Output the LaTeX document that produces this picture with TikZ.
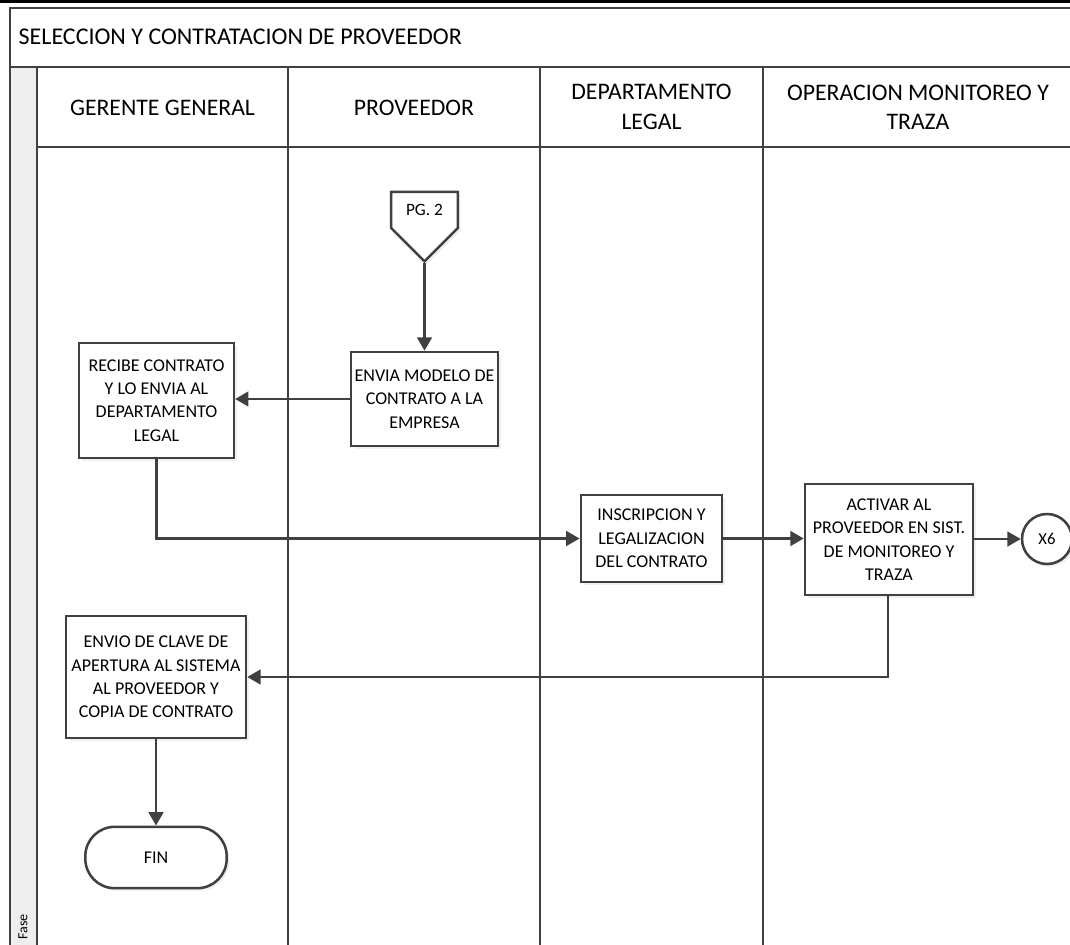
\documentclass[tikz,border=0pt]{standalone}
\usepackage{fontspec}
\setmainfont{Carlito}
\usetikzlibrary{arrows.meta,positioning,shapes.symbols,shadows}
\definecolor{lane}{HTML}{404040}
\definecolor{fase}{HTML}{EEEEEE}

\begin{document}
\begin{tikzpicture}[
  x=0.75pt, y=-0.75pt,
  >={Triangle[length=10pt, width=11pt]},
  task/.style={draw=lane, line width=1.9pt, fill=white, align=center,
               inner sep=2pt, font=\fontsize{13.5}{17.5}\selectfont,
               drop shadow={opacity=0.12, shadow xshift=2pt, shadow yshift=-2pt}},
  term/.style={task, rounded corners=22pt},
  conn/.style={task, circle, minimum size=37.5pt, inner sep=0pt,
               font=\fontsize{12.5}{14}\selectfont},
  offpage/.style={task, signal, signal to=south, signal from=nowhere,
                  signal pointer angle=90, font=\fontsize{13}{15}\selectfont},
  hdr/.style={align=center, font=\fontsize{17.8}{22}\selectfont},
  frm/.style={draw=lane, line width=2.2pt},
  arr/.style={->, draw=lane, line width=1.9pt},
]
\useasboundingbox (0,0) rectangle (1070,945);

%% ═══ POOL AND LANES ══════════════════════════════════════════════════
\draw[black, line width=3pt] (0,1.5) -- (1070,1.5);
\fill[fase] (10,67) rectangle (37,950);
\draw[frm] (10,950) -- (10,8) -- (1080,8);
\draw[frm] (10,67) -- (1080,67);
\draw[frm] (37,147) -- (1080,147);
\foreach \xl in {37,288,540,763}
  \draw[frm] (\xl,67) -- (\xl,950);

\node[anchor=west, font=\fontsize{18}{22}\selectfont] (pool) at (14,37)
    {SELECCION Y CONTRATACION DE PROVEEDOR};
\node[rotate=90, font=\fontsize{10.5}{12}\selectfont] (fase) at (23,927) {Fase};

% lane titles
\node[hdr] (hgerente)   at (162.5,108) {GERENTE GENERAL};
\node[hdr] (hproveedor) at (414,108)   {PROVEEDOR};
\node[hdr] (hlegal)     at (651.5,107) {DEPARTAMENTO\\LEGAL};
\node[hdr] (hoperacion) at (918,107)   {OPERACION MONITOREO Y\\TRAZA};

%% ═══ STEPS ══════════════════════════════════════════════════════════
\node[offpage, minimum width=50pt, minimum height=43pt] (pg2) at (424.5,210) {PG. 2};

\node[task, minimum width=110pt, minimum height=70.5pt] (envia) at (424.5,399)
    {ENVIA MODELO DE\\CONTRATO A LA\\EMPRESA};
\node[task, minimum width=116pt, minimum height=86pt] (recibe) at (156.5,400.5)
    {RECIBE CONTRATO\\Y LO ENVIA AL\\DEPARTAMENTO\\LEGAL};
\node[task, minimum width=106pt, minimum height=65pt] (inscrip) at (651.5,538.5)
    {INSCRIPCION Y\\LEGALIZACION\\DEL CONTRATO};
\node[task, minimum width=126pt, minimum height=83pt] (activar) at (889,539.5)
    {ACTIVAR AL\\PROVEEDOR EN SIST.\\DE MONITOREO Y\\TRAZA};
\node[conn] (x6) at (1047,539) {X6};
\node[task, minimum width=135pt, minimum height=91.5pt] (envio) at (156,677)
    {ENVIO DE CLAVE DE\\APERTURA AL SISTEMA\\AL PROVEEDOR Y\\COPIA DE CONTRATO};
\node[term, minimum width=106pt, minimum height=46pt] (fin) at (156,857.5) {FIN};

%% ═══ FLOW ═══════════════════════════════════════════════════════════
\draw[arr] (pg2.south) -- (envia.north);
\draw[arr] (envia.west) -- (envia.west -| recibe.east);
\draw[arr] (recibe.south) |- (inscrip.west);
\draw[arr] (inscrip.east) -- (inscrip.east -| activar.west);
\draw[arr] (activar.east |- x6.west) -- (x6.west);
\draw[arr] (activar.south -| 888,0) |- (envio.east);
\draw[arr] (envio.south) -- (fin.north);

\end{tikzpicture}
\end{document}
